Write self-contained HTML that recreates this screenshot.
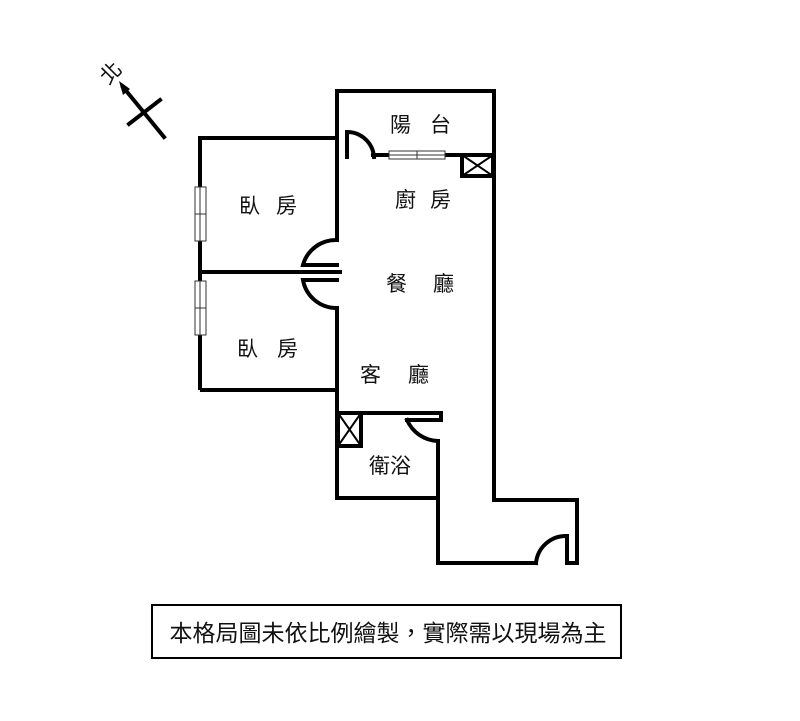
<!DOCTYPE html>
<html><head><meta charset="utf-8"><style>
body{margin:0;background:#fff;}
svg text{font-family:"Liberation Sans","Noto Sans CJK TC",sans-serif;fill:#111;}
</style></head><body>
<svg width="800" height="716" viewBox="0 0 800 716" xmlns="http://www.w3.org/2000/svg">
<g fill="none" stroke="#000" stroke-width="4" stroke-linecap="square">
<polyline points="337,157 337,91 494,91 494,500 577,500 577,563 567,563 567,536"/>
<line x1="337" y1="157" x2="337" y2="240"/>
<line x1="337" y1="308" x2="337" y2="498"/>
<line x1="373" y1="155" x2="388" y2="155"/>
<line x1="445" y1="155" x2="494" y2="155"/>
<path d="M347,157 L347,132 A27,27 0 0 1 374,157"/>
<rect x="462" y="155" width="31" height="21"/>
<line x1="462" y1="155" x2="493" y2="176" stroke-width="2"/>
<line x1="493" y1="155" x2="462" y2="176" stroke-width="2"/>
<polyline points="337,138 200,138 200,388"/>
<line x1="202" y1="390" x2="337" y2="390"/>
<line x1="200" y1="272" x2="337" y2="272"/>
<line x1="337" y1="272" x2="340" y2="272"/>
<path d="M337,240 A34,34 0 0 0 303,265 L337,265"/>
<path d="M337,280 L303,280 A34,34 0 0 0 337,308"/>
<polyline points="337,413 441,413 441,420 407,420"/>
<path d="M407,420 A35,35 0 0 0 438,441 L438,563 536,563"/>
<line x1="337" y1="498" x2="437" y2="498"/>
<rect x="338" y="413" width="23" height="33"/>
<line x1="338" y1="413" x2="361" y2="446" stroke-width="2"/>
<line x1="361" y1="413" x2="338" y2="446" stroke-width="2"/>
<path d="M536,563 A30,30 0 0 1 566,536"/>
<line x1="123" y1="87" x2="164" y2="137"/>
<line x1="129" y1="124" x2="160" y2="100"/>
</g>
<polygon points="119,81 130,89 123,95" fill="#000"/>
<g fill="#fff" stroke="#333" stroke-width="1">
<rect x="389" y="151" width="28" height="8"/><rect x="417" y="151" width="28" height="8"/>
<line x1="389" y1="155" x2="445" y2="155"/>
<rect x="195" y="187" width="11" height="27"/><rect x="195" y="214" width="11" height="27"/>
<line x1="200" y1="187" x2="200" y2="241"/>
<rect x="195" y="281" width="11" height="27"/><rect x="195" y="308" width="11" height="27"/>
<line x1="200" y1="281" x2="200" y2="335"/>
</g>
<text x="111" y="80" font-size="21" text-anchor="middle" transform="rotate(-45 111 73)">北</text>
<g font-size="21">
<text x="390" y="132">陽</text><text x="430" y="132">台</text>
<text x="239" y="213">臥</text><text x="276" y="213">房</text>
<text x="395" y="207">廚</text><text x="430" y="207">房</text>
<text x="386" y="291">餐</text><text x="433" y="291">廳</text>
<text x="237" y="356">臥</text><text x="277" y="356">房</text>
<text x="360" y="382">客</text><text x="408" y="382">廳</text>
<text x="369" y="473">衛浴</text>
</g>
<rect x="152" y="605" width="469" height="53" fill="none" stroke="#000" stroke-width="2"/>
<text x="388" y="641" font-size="23" text-anchor="middle">本格局圖未依比例繪製，實際需以現場為主</text>
</svg>
</body></html>
